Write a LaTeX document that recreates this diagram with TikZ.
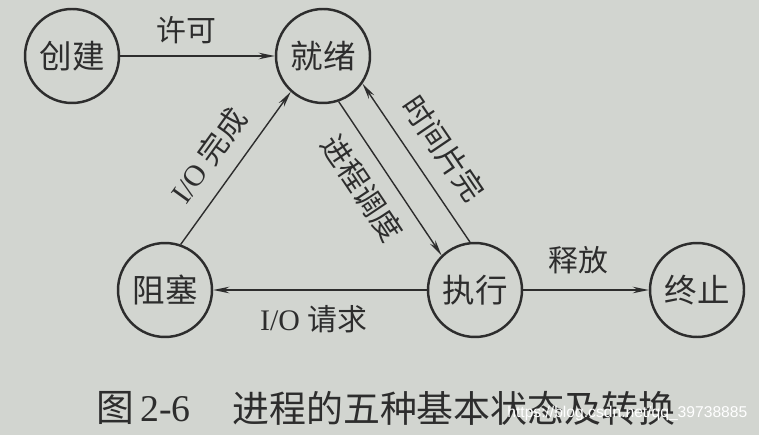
\documentclass[tikz,border=0pt]{standalone}
\usepackage{fontspec}
\setmainfont{Liberation Serif}
\newfontfamily\cjk{Noto Sans CJK SC}
\newfontfamily\wmfont{Liberation Sans}
\usepackage{tikz}
\usetikzlibrary{positioning}
\usetikzlibrary{arrows.meta}
\usetikzlibrary{calc}

\definecolor{paper}{RGB}{210,213,208}
\definecolor{ink}{RGB}{45,45,45}

\tikzset{
	state/.style={draw=ink, line width=1.4pt, circle, minimum size=1.88cm, inner sep=0pt,
		text=ink, font=\cjk\fontsize{18.5}{18.5}\selectfont},
	trans/.style={draw=ink, line width=0.8pt, -{Stealth[length=0.32cm,width=0.13cm]}},
	lbl/.style={inner sep=0pt, text=ink, font=\fontsize{17}{17}\selectfont}
}

\begin{document}
\begin{tikzpicture}[x=0.02cm, y=-0.02cm]
\fill[paper] (0,0) rectangle (759,435);
\useasboundingbox (0,0) rectangle (759,435);

\node[state] (ready) at (323,56) {就绪};
\node[state] (new) at ($(ready)+(-251,0)$) {创建};
\node[state] (blocked) at (165,290) {阻塞};
\node[state] (running) at ($(blocked)+(310,0)$) {执行};
\node[state] (done) at ($(running)+(222,0)$) {终止};

\draw[trans] (new) -- node[lbl, pos=0.43, above=0.22cm] {\cjk 许可} (ready);
\draw[trans] (blocked.71) -- node[lbl, pos=0.47, sloped, above=0.3cm] {I/O {\cjk 完成}} (ready.-132);
\draw[trans] (ready.-71) -- node[lbl, pos=0.46, sloped, below=0.28cm] {\cjk 进程调度} (running.134);
\draw[trans] (running.96) -- node[lbl, pos=0.48, sloped, above=0.32cm] {\cjk 时间片完} (ready.-35);
\draw[trans] (running) -- node[lbl, pos=0.53, below=0.3cm] {I/O {\cjk 请求}} (blocked);
\draw[trans] (running) -- node[lbl, pos=0.44, above=0.3cm] {\cjk 释放} (done);

% caption
\node[anchor=west, inner sep=0pt, text=ink, font=\fontsize{21.5}{21.5}\selectfont] (fignum) at (96,408) {{\cjk 图}\,2-6};
\node[right=0.82cm of fignum, inner sep=0pt, text=ink, font=\cjk\fontsize{21}{21}\selectfont] (figtitle) {进程的五种基本状态及转换};
\node[anchor=west, inner sep=0pt, text=white, font=\wmfont\fontsize{8.9}{8.9}\selectfont] (mark) at (507,413) {https://blog.csdn.net/qq\_39738885};
\end{tikzpicture}
\end{document}
